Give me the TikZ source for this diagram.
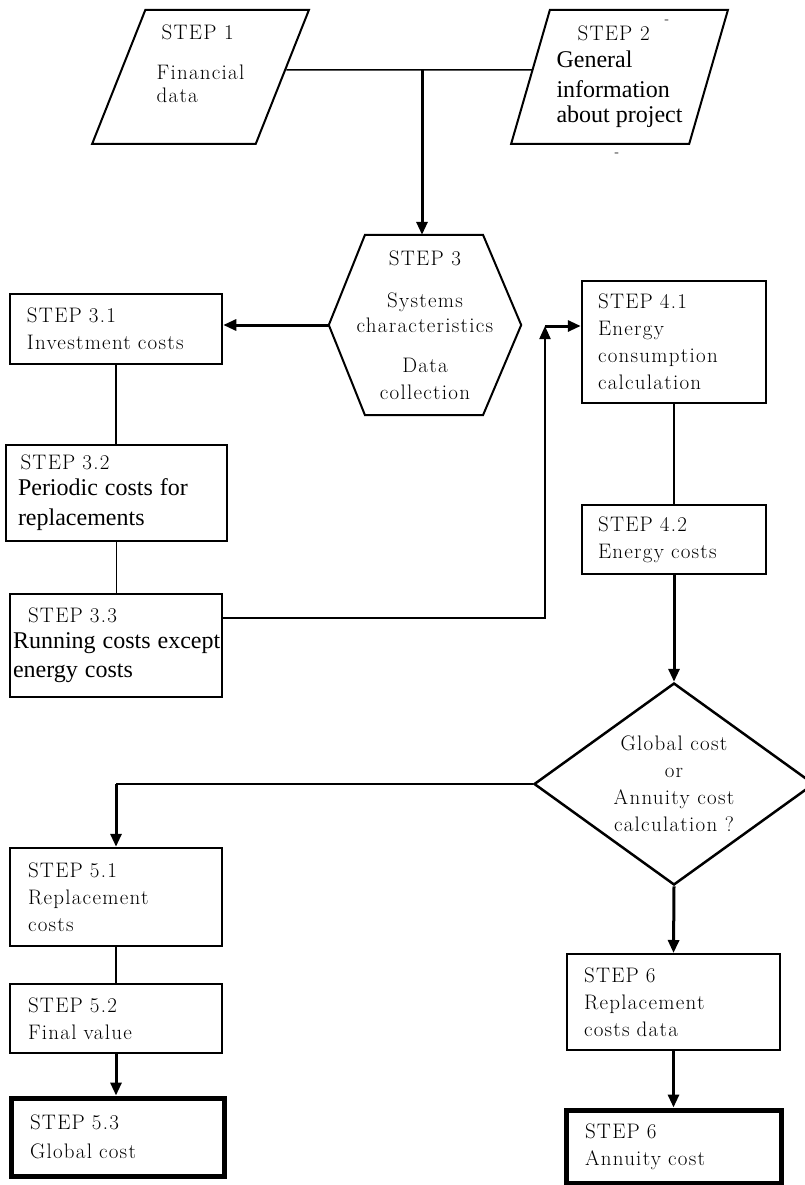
\documentclass[tikz,border=0pt]{standalone}
\usepackage{fontspec}
\newfontfamily\darkfont{Liberation Serif}
\newfontfamily\lightfont{lmroman17-regular.otf}[LetterSpace=6]
\usetikzlibrary{shapes.geometric,arrows.meta}
\newcommand{\dk}{\darkfont\fontsize{24}{29}\selectfont}

\begin{document}
\begin{tikzpicture}[x=1pt,y=-1pt,
  every node/.style={font=\lightfont\fontsize{21}{27}\selectfont},
  box/.style={draw,rectangle,line width=2pt,align=left,inner xsep=17pt,inner ysep=0pt},
  slant/.style={draw,trapezium,trapezium stretches=true,line width=2pt,align=left,inner sep=0pt,minimum width=217pt,minimum height=134pt},
  arr/.style={line width=3pt,-{Triangle[length=13pt,width=11pt]}},
  ln/.style={line width=1.5pt}]
\clip (0,0) rectangle (805,1185);
\node[slant,trapezium left angle=68,trapezium right angle=112] (s1) at (200.5,77) {\hspace*{5pt}STEP 1\\[13pt]Financial\\[-4pt]data\\\mbox{}};
\node[slant,trapezium left angle=71,trapezium right angle=109] (s2) at (619.5,77) {\hspace*{21pt}STEP 2\\{\dk General}\\[3pt]{\dk information}\\[-2pt]{\dk about project}};
\node[font=\fontsize{14}{14}\selectfont] (m1) at (667,22) {-};
\node[font=\fontsize{14}{14}\selectfont] (m2) at (617,155) {-};
\node[minimum width=192pt,minimum height=180pt,inner sep=0pt,align=center] (s3) at (425,325) {STEP 3\\[15pt]Systems\\[-2pt]characteristics\\[13pt]Data\\collection};
\draw[line width=2pt] ([xshift=-60pt]s3.north) -- ([xshift=58pt]s3.north) -- (s3.east) -- ([xshift=58pt]s3.south) -- ([xshift=-60pt]s3.south) -- (s3.west) -- cycle;
\node[box,line width=2.5pt,text width=178pt,minimum height=70pt] (s31) at (116,329) {STEP 3.1\\Investment costs};
\node[box,inner xsep=12pt,text width=197pt,minimum height=96pt] (s32) at (116.5,493) {\hspace*{2.5pt}STEP 3.2\\[-1pt]{\dk Periodic costs for}\\[3pt]{\dk replacements}};
\node[box,inner xsep=3pt,text width=206pt,minimum height=103pt] (s33) at (116,645.5) {\hspace*{15pt}STEP 3.3\\[-1pt]\mbox{\dk Running costs except}\\[2pt]{\dk energy costs}};
\node[box,line width=2.5pt,inner xsep=16pt,text width=152pt,minimum height=122pt] (s41) at (674,342) {STEP 4.1\\Energy\\consumption\\calculation};
\node[box,line width=2.5pt,inner xsep=16pt,text width=152pt,minimum height=69pt] (s42) at (674,539.5) {STEP 4.2\\Energy costs};
\node[diamond,draw,line width=2.5pt,minimum width=280pt,minimum height=202pt,inner sep=-10pt,align=center] (dia) at (674,784) {Global cost\\or\\Annuity cost\\calculation ?};
\node[box,line width=2.5pt,inner xsep=18pt,text width=176pt,minimum height=98pt] (s51) at (116,897) {STEP 5.1\\Replacement\\costs};
\node[box,line width=1.5pt,inner xsep=18pt,text width=176pt,minimum height=69pt] (s52) at (116,1018.5) {STEP 5.2\\Final value};
\node[box,line width=5pt,inner xsep=19pt,text width=175pt,minimum height=78pt] (s53) at (117.5,1137) {STEP 5.3\\[2pt]Global cost};
\node[box,inner xsep=17pt,text width=179pt,minimum height=96pt] (s6) at (673.5,1002) {STEP 6\\Replacement\\costs data};
\node[box,line width=5pt,inner xsep=19pt,text width=177pt,minimum height=73pt] (s6b) at (673.5,1146.5) {STEP 6\\Annuity cost};
\coordinate (j) at (422,70);
\coordinate (c41) at (545,326);
\coordinate (c51) at (dia.west -| s51.north);
\draw[ln] ([shift={(3pt,7pt)}]s1.east) -- ([shift={(2.5pt,7pt)}]s2.west);
\draw[arr] (j) -- (s3.north -| j);
\draw[arr] (s3.west) -- (s3.west -| s31.east);
\draw[ln] (s31.south) -- (s31.south |- s32.north);
\draw[ln] (s32.south) -- (s32.south |- s33.north);
\draw[line width=2pt,-{Triangle[length=13pt,width=11pt]}] ([yshift=28pt]s33.east) -| (c41);
\draw[arr] (c41) -- (c41 -| s41.west);
\draw[line width=2pt] (s41.south) -- (s42.north);
\draw[arr] (s42.south) -- (dia.north);
\draw[line width=2pt] (dia.west) -- (c51);
\draw[arr] (c51) -- (s51.north);
\draw[ln] (s51.south) -- (s52.north);
\draw[arr] (s52.south) -- (s52.south |- s53.north);
\draw[arr] (dia.south) -- (s6.north);
\draw[arr] (s6.south) -- (s6b.north);
\end{tikzpicture}
\end{document}
